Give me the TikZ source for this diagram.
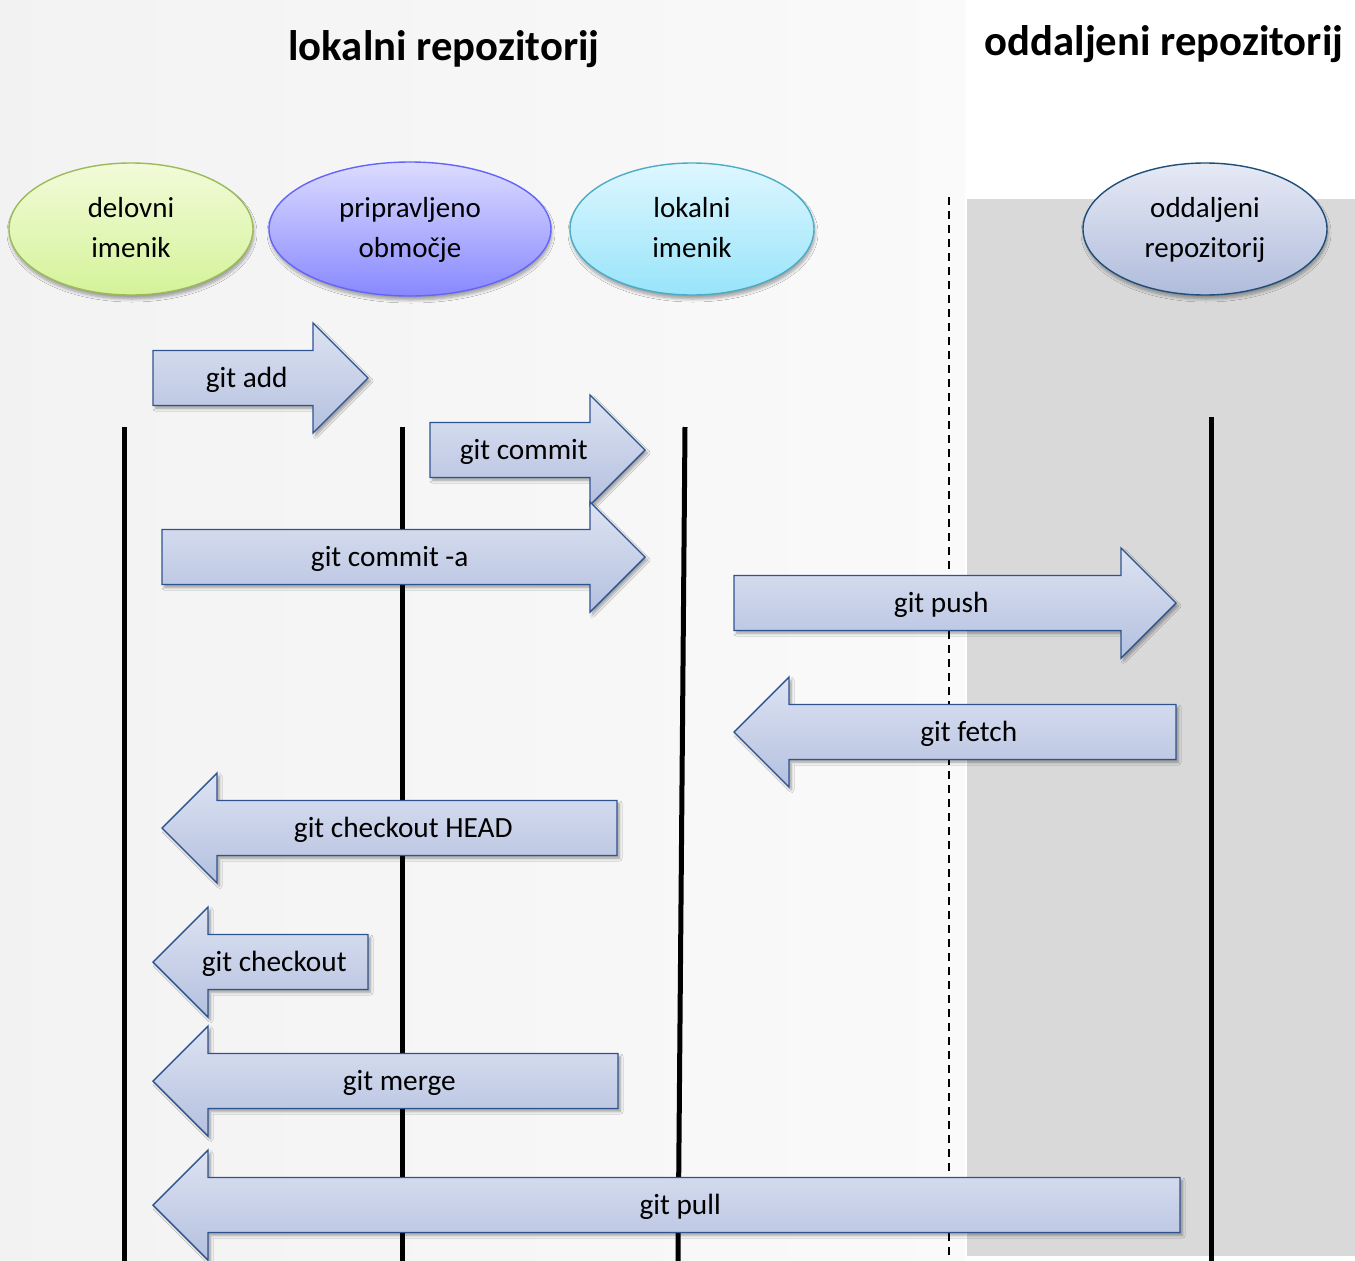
\documentclass[tikz,border=0pt]{standalone}
\usepackage{fontspec}
\setmainfont{Carlito}
\usetikzlibrary{shapes.geometric,shadows.blur}

\definecolor{arrowTop}{HTML}{DDE3F2}
\definecolor{arrowBot}{HTML}{B4C0DF}
\definecolor{arrowEdge}{HTML}{2E5490}
\definecolor{panelGray}{HTML}{D9D9D9}
\definecolor{wdEdge}{HTML}{9BBB59}
\definecolor{wdTop}{HTML}{F2FBDA}
\definecolor{wdBot}{HTML}{D4F398}
\definecolor{stEdge}{HTML}{6464FA}
\definecolor{stTop}{HTML}{DCDCFF}
\definecolor{stBot}{HTML}{8888FF}
\definecolor{liEdge}{HTML}{4BACC6}
\definecolor{liTop}{HTML}{DEF7FF}
\definecolor{liBot}{HTML}{98E4FA}
\definecolor{rrEdge}{HTML}{1F4E79}
\definecolor{rrTop}{HTML}{E6EAF5}
\definecolor{rrBot}{HTML}{B0BCDC}

\tikzset{
  gitarrow/.style={draw=arrowEdge, line width=1.4pt, line join=miter,
    top color=arrowTop, bottom color=arrowBot,
    blur shadow={shadow xshift=2.5pt, shadow yshift=-3pt, shadow opacity=35,
                 shadow blur steps=6, shadow blur radius=2.5pt}},
  arrowlabel/.style={anchor=base, inner sep=0pt, text=black,
    font=\fontsize{29.3}{35}\selectfont},
  area/.style={ellipse, line width=1.4pt, minimum width=244pt, minimum height=132pt,
    inner sep=0pt, align=center, font=\fontsize{29}{40}\selectfont,
    blur shadow={shadow xshift=1pt, shadow yshift=-4pt, shadow opacity=35,
                 shadow blur steps=6, shadow blur radius=3pt}},
  lifeline/.style={line width=5pt, black},
  boundary/.style={line width=1.4pt, dash pattern=on 8pt off 6pt, black},
  heading/.style={anchor=base, inner sep=0pt, font=\fontsize{42.7}{50}\selectfont\bfseries}
}

% right-pointing arrow: name, tail x, head base x, centre y, text
\newcommand{\gitarrowright}[5]{%
  \path[gitarrow] (#2,#4-27.5) -- (#3,#4-27.5) -- (#3,#4-55) -- (#3+55,#4)
    -- (#3,#4+55) -- (#3,#4+27.5) -- (#2,#4+27.5) -- cycle;
  \node[arrowlabel] (#1) at ({(#2+#3+55)/2-13.75},#4+9) {#5};}
% left-pointing arrow: name, tip x, tail x, centre y, text
\newcommand{\gitarrowleft}[5]{%
  \path[gitarrow] (#2,#4) -- (#2+55,#4-55) -- (#2+55,#4-27.5) -- (#3,#4-27.5)
    -- (#3,#4+27.5) -- (#2+55,#4+27.5) -- (#2+55,#4+55) -- cycle;
  \node[arrowlabel] (#1) at ({(#2+#3)/2+13.75},#4+9) {#5};}

\begin{document}
\begin{tikzpicture}[x=1pt, y=-1pt]
  % canvas
  \fill[white] (0,0) rectangle (1355,1261);
  \useasboundingbox (0,0) rectangle (1355,1261);
  \shade[left color=black!5, right color=black!2] (0,0) rectangle (965,1261);
  \fill[panelGray] (967,199) rectangle (1355,1256);

  % headings
  \node[heading] (localtitle) at (444,60) {lokalni repozitorij};
  \node[heading] (remotetitle) at (1164,55) {oddaljeni repozitorij};

  % local / remote boundary
  \coordinate (bnd-top) at (949,197);
  \coordinate (bnd-bot) at (949,1261);
  \draw[boundary] (bnd-top) -- (bnd-bot);

  % lifelines
  \coordinate (wd-top) at (124,427);  \coordinate (wd-bot) at (124,1261);
  \coordinate (st-top) at (402,427);  \coordinate (st-bot) at (402,1261);
  \coordinate (li-top) at (685,427);  \coordinate (li-bot) at (678,1261);
  \coordinate (rr-top) at (1211,417); \coordinate (rr-bot) at (1211,1261);
  \draw[lifeline] (wd-top) -- (wd-bot);
  \draw[lifeline] (st-top) -- (st-bot);
  \draw[lifeline] (li-top) -- (li-bot);
  \draw[lifeline] (rr-top) -- (rr-bot);

  % areas
  \node[area, draw=wdEdge, top color=wdTop, bottom color=wdBot]
        (wd) at (131,229) {\strut delovni\\\strut imenik};
  \node[area, minimum width=282pt, minimum height=134pt,
        draw=stEdge, top color=stTop, bottom color=stBot]
        (st) at (410,229) {\strut pripravljeno\\\strut območje};
  \node[area, draw=liEdge, top color=liTop, bottom color=liBot]
        (li) at (692,229) {\strut lokalni\\\strut imenik};
  \node[area, draw=rrEdge, top color=rrTop, bottom color=rrBot]
        (rr) at (1205,229) {\strut oddaljeni\\\strut repozitorij};

  % commands
  \gitarrowright{add}{153}{313}{378}{git add}
  \gitarrowright{commit}{430}{590}{450}{git commit}
  \gitarrowright{commita}{162}{590}{557}{git commit -a}
  \gitarrowright{push}{734}{1121}{603}{git push}
  \gitarrowleft{fetch}{734}{1176}{732}{git fetch}
  \gitarrowleft{checkouthead}{162}{617}{828}{git checkout HEAD}
  \gitarrowleft{checkout}{153}{368}{962}{git checkout}
  \gitarrowleft{merge}{153}{618}{1081}{git merge}
  \gitarrowleft{pull}{153}{1180}{1205}{git pull}
\end{tikzpicture}
\end{document}
